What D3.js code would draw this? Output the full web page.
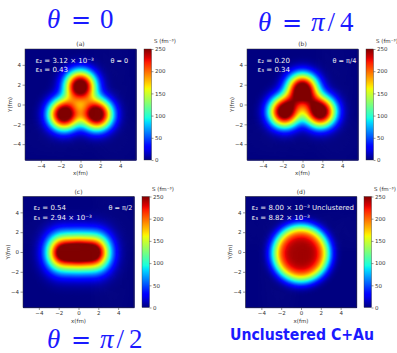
<!DOCTYPE html>
<html>
<head>
<meta charset="utf-8">
<script src="https://cdn.jsdelivr.net/npm/d3@7"></script>
<style>
  body { margin: 0; background: #fff; }
  svg { display: block; }
</style>
</head>
<body>
<svg id="chart" width="397" height="353"></svg>
<script>
// ---- data ----
const panelLetters = ["(a)", "(b)", "(c)", "(d)"];
const eps2Labels = ["ε₂ = 3.12 × 10⁻³", "ε₂ = 0.20", "ε₂ = 0.54", "ε₂ = 8.00 × 10⁻³"];
const eps3Labels = ["ε₃ = 0.43", "ε₃ = 0.34", "ε₃ = 2.94 × 10⁻³", "ε₃ = 8.82 × 10⁻³"];
const cornerLabels = ["θ = 0", "θ = π/4", "θ = π/2", "Unclustered"];
const axisTicks = [-4, -2, 0, 2, 4];
const colorTicks = [0, 50, 100, 150, 200, 250];
const fmExtent = [-5.6, 5.6];
const sMax = 250;
const gridStep = 0.1;

// cluster centres (fm) and profile of each map
const clusterXa = [0, -1.65, 1.65], clusterYa = [1.9, -0.95, -0.95];
const clusterXb = [0, -1.8, 1.8], clusterYb = [1.6, -0.68, -0.68];
const clusterXc = [-1.85, 0, 1.85], clusterYc = [0, 0, 0];
const clusterXd = [0], clusterYd = [-0.1];
const peakS = [271, 271, 235, 243];
const widthX = [1.2, 1.2, 1.0, 2.45];
const widthY = [1.2, 1.2, 1.26, 2.45];
const shapePower = [2.4, 2.4, 2, 4.5];

const panels = [
  { cx: clusterXa, cy: clusterYa, left: 25, top: 49, cbar: 144 },
  { cx: clusterXb, cy: clusterYb, left: 247, top: 49, cbar: 366 },
  { cx: clusterXc, cy: clusterYc, left: 23, top: 196.5, cbar: 142 },
  { cx: clusterXd, cy: clusterYd, left: 245.5, top: 196.5, cbar: 364 }
];
const size = 111;

// matplotlib "jet"
const jetR = d3.scaleLinear().domain([0, 0.35, 0.66, 0.89, 1]).range([0, 0, 1, 1, 0.5]).clamp(true);
const jetG = d3.scaleLinear().domain([0, 0.125, 0.375, 0.64, 0.91, 1]).range([0, 0, 1, 1, 0, 0]).clamp(true);
const jetB = d3.scaleLinear().domain([0, 0.11, 0.34, 0.65, 1]).range([0.5, 1, 1, 0, 0]).clamp(true);
const sNorm = d3.scaleLinear().domain([0, sMax]).range([0, 1]).clamp(true);
const jet = (s) => {
  const t = sNorm(s);
  return d3.rgb(jetR(t) * 255, jetG(t) * 255, jetB(t) * 255).formatRgb();
};

function density(i, px, py) {
  const p = panels[i];
  let s = 0;
  for (let k = 0; k < p.cx.length; k++) {
    const dx = (px - p.cx[k]) / widthX[i];
    const dy = (py - p.cy[k]) / widthY[i];
    s += peakS[i] * Math.exp(-0.5 * Math.pow(dx * dx + dy * dy, shapePower[i] / 2));
  }
  return s;
}

const svg = d3.select("#chart");
const font = "'DejaVu Sans', sans-serif";

const grad = svg.append("defs").append("linearGradient")
  .attr("id", "jetbar").attr("x1", 0).attr("y1", 1).attr("x2", 0).attr("y2", 0);
d3.range(0, 1.0001, 0.02).forEach((t) => {
  grad.append("stop").attr("offset", t).attr("stop-color", jet(t * sMax));
});

const gridCentres = d3.range(fmExtent[0] + gridStep / 2, fmExtent[1], gridStep);

panels.forEach((p, i) => {
  const x = d3.scaleLinear().domain(fmExtent).range([p.left, p.left + size]);
  const y = d3.scaleLinear().domain(fmExtent).range([p.top + size, p.top]);

  // heat map cells on a canvas, then placed as an image
  const canvas = document.createElement("canvas");
  canvas.width = 397; canvas.height = 353;
  const ctx = canvas.getContext("2d");
  const cw = x(gridStep) - x(0);
  gridCentres.forEach((gx) => {
    gridCentres.forEach((gy) => {
      ctx.fillStyle = jet(density(i, gx, gy));
      ctx.fillRect(x(gx - gridStep / 2), y(gy + gridStep / 2), cw + 0.6, cw + 0.6);
    });
  });
  svg.append("image")
    .attr("x", 0).attr("y", 0).attr("width", 397).attr("height", 353)
    .attr("href", canvas.toDataURL());

  svg.append("rect")
    .attr("x", p.left).attr("y", p.top).attr("width", size).attr("height", size)
    .attr("fill", "none").attr("stroke", "#333").attr("stroke-width", 0.5);

  const gx = svg.append("g")
    .attr("transform", `translate(0,${p.top + size})`)
    .call(d3.axisBottom(x).tickValues(axisTicks).tickSize(2.5).tickPadding(1.5));
  const gy = svg.append("g")
    .attr("transform", `translate(${p.left},0)`)
    .call(d3.axisLeft(y).tickValues(axisTicks).tickSize(2.5).tickPadding(1.5));
  [gx, gy].forEach((g) => {
    g.select(".domain").remove();
    g.selectAll("line").attr("stroke", "#333").attr("stroke-width", 0.5);
    g.selectAll("text").attr("font-size", 5.5).attr("font-family", font).attr("fill", "#333");
  });

  svg.append("text")
    .attr("x", p.left + size / 2).attr("y", p.top + size + 15)
    .attr("text-anchor", "middle").attr("font-size", 5.5).attr("font-family", font).attr("fill", "#333")
    .text("x(fm)");
  svg.append("text")
    .attr("transform", `translate(${p.left - 13.5},${p.top + size / 2}) rotate(-90)`)
    .attr("text-anchor", "middle").attr("font-size", 5.5).attr("font-family", font).attr("fill", "#333")
    .text("Y(fm)");
  svg.append("text")
    .attr("x", p.left + size / 2).attr("y", p.top - 3)
    .attr("text-anchor", "middle").attr("font-size", 6).attr("font-family", font).attr("fill", "#333")
    .text(panelLetters[i]);

  // annotations inside the map
  const ann = svg.append("g").attr("font-family", font).attr("font-size", 7).attr("fill", "#f2f2f2");
  const annLeft = i === 3 ? 6 : 10.5;
  ann.append("text").attr("x", p.left + annLeft).attr("y", p.top + 13.5).text(eps2Labels[i]);
  ann.append("text").attr("x", p.left + annLeft).attr("y", p.top + 23).text(eps3Labels[i]);
  ann.append("text").attr("x", p.left + (i === 3 ? 66.5 : 85.5)).attr("y", p.top + 13.5)
    .attr("font-size", i === 3 ? 7 : 6.5).text(cornerLabels[i]);

  // colour bar
  const cs = d3.scaleLinear().domain([0, sMax]).range([p.top + size, p.top]);
  svg.append("rect")
    .attr("x", p.cbar).attr("y", p.top).attr("width", 7.5).attr("height", size)
    .attr("fill", "url(#jetbar)").attr("stroke", "#333").attr("stroke-width", 0.4);
  const gc = svg.append("g")
    .attr("transform", `translate(${p.cbar + 7.5},0)`)
    .call(d3.axisRight(cs).tickValues(colorTicks).tickSize(2).tickPadding(1.5));
  gc.select(".domain").remove();
  gc.selectAll("line").attr("stroke", "#333").attr("stroke-width", 0.5);
  gc.selectAll("text").attr("font-size", 5.5).attr("font-family", font).attr("fill", "#333");
  svg.append("text")
    .attr("x", p.cbar + 10).attr("y", p.top - 6)
    .attr("font-size", 5.5).attr("font-family", font).attr("fill", "#333")
    .text("S (fm⁻³)");
});

// big blue headings
const blue = "#1a1aff";
function heading(parts, baseline) {
  const t = svg.append("text").attr("y", baseline)
    .attr("font-family", "'Liberation Serif', serif").attr("font-size", 27).attr("fill", blue);
  parts.forEach(([str, xPos, italic]) => {
    const s = t.append("tspan").attr("x", xPos).attr("font-style", italic ? "italic" : "normal").text(str);
    if (str === "=") s.attr("font-family", font).attr("font-size", 24);
  });
}
heading([["θ", 47, true], ["=", 71, false], ["0", 100, false]], 28.3);
heading([["θ", 258, true], ["=", 282, false], ["π", 311, true], ["/", 327.5, false], ["4", 340, false]], 30.7);
heading([["θ", 47, true], ["=", 71, false], ["π", 100, true], ["/", 116.5, false], ["2", 129, false]], 348.3);

svg.append("text")
  .attr("x", 230).attr("y", 340)
  .attr("font-family", font).attr("font-weight", "bold").attr("font-size", 15)
  .attr("textLength", 144).attr("lengthAdjust", "spacingAndGlyphs")
  .attr("fill", blue)
  .text("Unclustered C+Au");
</script>
</body>
</html>
